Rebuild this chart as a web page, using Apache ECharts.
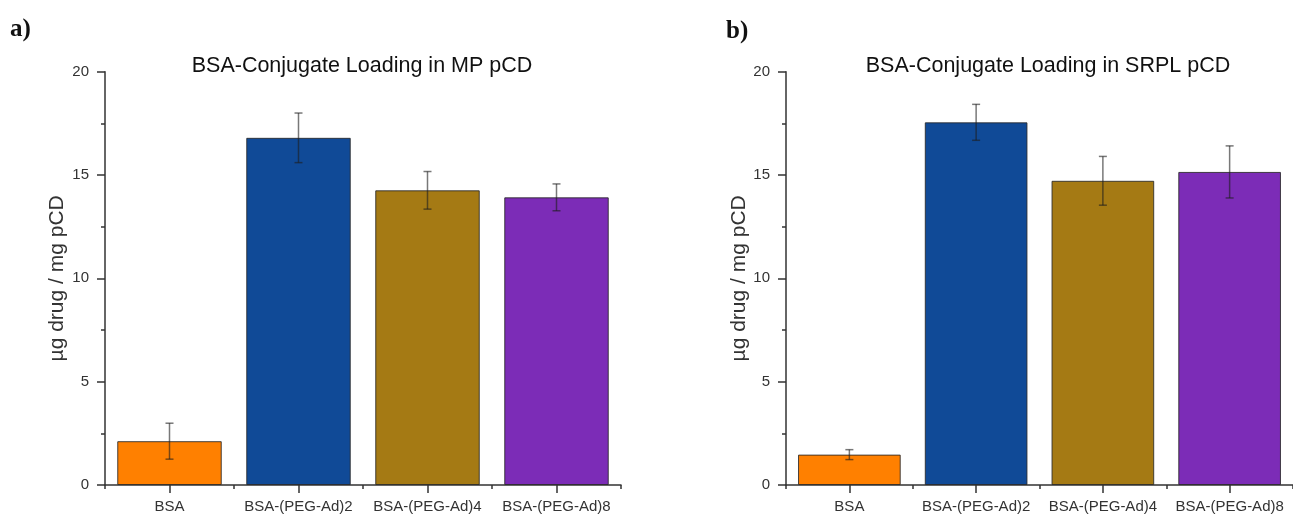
<!DOCTYPE html>
<html>
<head>
<meta charset="utf-8">
<script src="https://cdn.jsdelivr.net/npm/echarts@6/dist/echarts.min.js"></script>
<style>
  html, body { margin: 0; padding: 0; background: #fff; }
  #chart { width: 1293px; height: 520px; }
</style>
</head>
<body>
<div id="chart"></div>
<script>
// 数据
const categories = ['BSA', 'BSA-(PEG-Ad)2', 'BSA-(PEG-Ad)4', 'BSA-(PEG-Ad)8'];
const mpMeans = [2.12, 16.8, 14.26, 13.92];
const mpErr = [0.87, 1.2, 0.91, 0.65];
const srplMeans = [1.47, 17.55, 14.72, 15.15];
const srplErr = [0.24, 0.87, 1.18, 1.26];
const yTicks = [0, 5, 10, 15, 20];

const BAR_COLORS = ['#FF8000', '#104A97', '#A57A14', '#7C2CB7'];
const AXIS_COLOR = '#333';
const FONT = '"Liberation Sans", Arial, sans-serif';

const chart = echarts.init(document.getElementById('chart'));

// ─── helpers ───
function makeGrid(left, right) {
  return { left: left, right: right, top: 71.7, bottom: 35, containLabel: false };
}

function catAxes(gridIndex) {
  return [
    {
      type: 'category', data: categories, gridIndex: gridIndex, position: 'bottom',
      axisLine: { show: true, lineStyle: { color: AXIS_COLOR, width: 1.5 } },
      axisTick: { show: true, alignWithLabel: true, length: 8, lineStyle: { color: AXIS_COLOR, width: 1.5 } },
      axisLabel: { color: '#333', fontSize: 15, fontFamily: FONT, margin: 14, interval: 0 },
      splitLine: { show: false },
    },
    // boundary ticks (short)
    {
      type: 'category', data: categories, gridIndex: gridIndex, position: 'bottom',
      axisLine: { show: false },
      axisTick: { show: true, length: 4, lineStyle: { color: AXIS_COLOR, width: 1.5 } },
      axisLabel: { show: false },
      splitLine: { show: false },
    },
  ];
}

function valAxis(gridIndex, gap) {
  return {
    type: 'value', gridIndex: gridIndex, min: yTicks[0], max: yTicks[yTicks.length - 1], interval: 5,
    name: 'µg drug / mg pCD', nameLocation: 'middle', nameGap: gap,
    nameTextStyle: { fontSize: 21, color: '#333', fontFamily: FONT },
    axisLine: { show: true, lineStyle: { color: AXIS_COLOR, width: 1.5 } },
    axisTick: { show: true, length: 8, lineStyle: { color: AXIS_COLOR, width: 1.5 } },
    minorTick: { show: true, splitNumber: 2, length: 4, lineStyle: { color: AXIS_COLOR, width: 1.5 } },
    axisLabel: { color: '#333', fontSize: 15, fontFamily: FONT, margin: 16 },
    splitLine: { show: false },
    minorSplitLine: { show: false },
  };
}

function barSeries(axisIdx, means) {
  return {
    type: 'bar', xAxisIndex: axisIdx, yAxisIndex: axisIdx / 2,
    barCategoryGap: '19%',
    data: means.map((v, i) => ({ value: v, itemStyle: { color: BAR_COLORS[i] } })),
    itemStyle: { borderColor: 'rgba(40,40,40,0.85)', borderWidth: 1 },
    silent: true,
  };
}

function errSeries(axisIdx, means, errs) {
  return {
    type: 'custom', xAxisIndex: axisIdx, yAxisIndex: axisIdx / 2, z: 5, silent: true,
    data: means.map((m, i) => [i, m - errs[i], m + errs[i]]),
    renderItem: function (params, api) {
      const lo = api.coord([api.value(0), api.value(1)]);
      const hi = api.coord([api.value(0), api.value(2)]);
      const w = 4;
      const style = { stroke: 'rgba(30,30,30,0.6)', lineWidth: 1.5 };
      return {
        type: 'group',
        children: [
          { type: 'line', shape: { x1: hi[0], y1: hi[1], x2: lo[0], y2: lo[1] }, style: style },
          { type: 'line', shape: { x1: hi[0] - w, y1: hi[1], x2: hi[0] + w, y2: hi[1] }, style: style },
          { type: 'line', shape: { x1: lo[0] - w, y1: lo[1], x2: lo[0] + w, y2: lo[1] }, style: style },
        ],
      };
    },
  };
}

function label(x, y, text, font, align) {
  return {
    type: 'text', x: x, y: y, silent: true,
    style: { text: text, font: font, fill: '#111', align: align || 'left', verticalAlign: 'top' },
  };
}

const option = {
  animation: false,
  grid: [makeGrid(105, 672), makeGrid(786, -9)],
  xAxis: [...catAxes(0), ...catAxes(1)],
  yAxis: [valAxis(0, 37), valAxis(1, 36)],
  series: [
    barSeries(0, mpMeans),
    errSeries(0, mpMeans, mpErr),
    barSeries(2, srplMeans),
    errSeries(2, srplMeans, srplErr),
  ],
  graphic: [
    label(10, 17, 'a)', 'bold 25px "Liberation Serif", "Times New Roman", serif'),
    label(726, 19, 'b)', 'bold 25px "Liberation Serif", "Times New Roman", serif'),
    label(362, 55, 'BSA-Conjugate Loading in MP pCD', '21.5px ' + FONT, 'center'),
    label(1048, 55, 'BSA-Conjugate Loading in SRPL pCD', '21.5px ' + FONT, 'center'),
  ],
};

chart.setOption(option);
</script>
</body>
</html>
